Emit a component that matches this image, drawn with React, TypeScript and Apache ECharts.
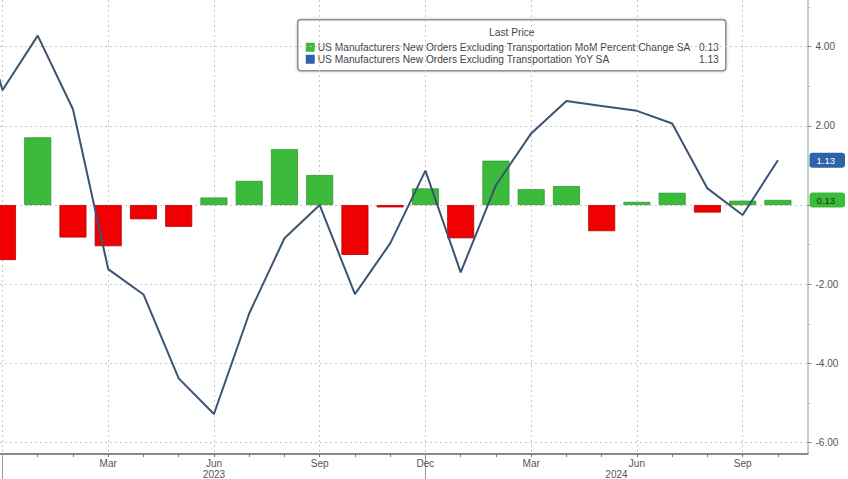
import React, { useEffect, useRef } from 'react';
import * as echarts from 'echarts';

// Months (index 0 = Nov 2022, off the left edge of the view)
const months = [
  '2022-11', '2022-12',
  '2023-01', '2023-02', '2023-03', '2023-04', '2023-05', '2023-06',
  '2023-07', '2023-08', '2023-09', '2023-10', '2023-11', '2023-12',
  '2024-01', '2024-02', '2024-03', '2024-04', '2024-05', '2024-06',
  '2024-07', '2024-08', '2024-09', '2024-10',
];
const monthAbbr = ['Jan', 'Feb', 'Mar', 'Apr', 'May', 'Jun', 'Jul', 'Aug', 'Sep', 'Oct', 'Nov', 'Dec'];

// MoM percent change (bars)
const momChange: (number | null)[] = [
  null, -1.39,
  1.71, -0.82, -1.04, -0.36, -0.55, 0.19,
  0.61, 1.41, 0.76, -1.26, -0.06, 0.42,
  -0.84, 1.12, 0.40, 0.48, -0.66, 0.08,
  0.31, -0.19, 0.11, 0.13,
];

// YoY (line)
const yoyChange = [
  6.1, 2.9,
  4.28, 2.42, -1.62, -2.26, -4.38, -5.28,
  -2.74, -0.84, 0.0, -2.25, -0.97, 0.87,
  -1.70, 0.5, 1.81, 2.63, 2.5, 2.38,
  2.06, 0.42, -0.25, 1.13,
];

const yGridValues = [-6, -4, -2, 0, 2, 4];
const yLabelValues = [-6, -4, -2, 2, 4];
const yMinorValues = [-5, -3, -1, 1, 3, 5];

const momName = 'US Manufacturers New Orders Excluding Transportation MoM Percent Change SA';
const yoyName = 'US Manufacturers New Orders Excluding Transportation YoY SA';
const legendTitle = 'Last Price';

const X_MIN = 0.93;
const X_MAX = 23.84;
const Y_MIN = -6.29;
const Y_MAX = 5.18;

const GREEN = '#3cba3c';
const GREEN_EDGE = '#2c9a2c';
const RED = '#f00000';
const RED_EDGE = '#b40000';
const LINE = '#3b5472';
const BLUE_TAG = '#2c64aa';
const FONT = 'Liberation Sans, Arial, sans-serif';
const LEGEND_FS = 10.2;

export default function App() {
  const ref = useRef<HTMLDivElement>(null);

  useEffect(() => {
    if (!ref.current) return;
    const chart = echarts.init(ref.current, null, { renderer: 'svg' });

    const monthIdx = months.map((_, i) => i);
    const visibleIdx = monthIdx.filter((i) => i >= X_MIN && i <= X_MAX);
    const quarterIdx = visibleIdx.filter((i) => Number(months[i].slice(5)) % 3 === 0);
    const quarterLabelIdx = quarterIdx.filter((i) => i - 0.5 > X_MIN);
    const decIdx = visibleIdx.filter((i) => months[i].slice(5) === '12');
    const yearBounds = [...decIdx, X_MAX];
    const yearCenters = yearBounds.slice(0, -1).map((b, k) => (b + yearBounds[k + 1]) / 2);
    const yearOfCenter = (v: number) => {
      const k = yearCenters.findIndex((c) => Math.abs(c - v) < 0.01);
      return String(Number(months[decIdx[k]].slice(0, 4)) + 1);
    };

    const lastMom = momChange[momChange.length - 1] as number;
    const lastYoy = yoyChange[yoyChange.length - 1];

    const dotted = { color: '#c9c9c9', type: [2, 3] as number[], width: 1 };

    const xBase = {
      type: 'value' as const,
      min: X_MIN,
      max: X_MAX,
      position: 'bottom' as const,
      gridIndex: 0,
    };
    const yBase = {
      type: 'value' as const,
      min: Y_MIN,
      max: Y_MAX,
      position: 'right' as const,
      gridIndex: 0,
    };

    const option: any = {
      animation: false,
      backgroundColor: '#ffffff',
      textStyle: { fontFamily: FONT },
      grid: { left: 0, right: 35, top: 0, bottom: 25, containLabel: false },
      xAxis: [
        {
          ...xBase,
          axisLine: { show: true, onZero: false, lineStyle: { color: '#8a8a8a', width: 2 } },
          axisTick: { show: true, length: 3, customValues: visibleIdx, lineStyle: { color: '#777' } },
          axisLabel: { show: false },
          splitLine: { show: false },
        },
        {
          ...xBase,
          axisLine: { show: false, onZero: false },
          axisTick: { show: false, customValues: quarterIdx },
          axisLabel: {
            show: true,
            customValues: quarterLabelIdx,
            margin: 4,
            fontSize: 10,
            color: '#555',
            fontFamily: FONT,
            formatter: (v: number) => monthAbbr[Number(months[Math.round(v)].slice(5)) - 1],
          },
          splitLine: { show: true, lineStyle: dotted },
        },
        {
          ...xBase,
          axisLine: { show: false, onZero: false },
          axisTick: { show: true, inside: false, length: 25, customValues: decIdx, lineStyle: { color: '#999', width: 1 } },
          axisLabel: {
            show: true,
            customValues: yearCenters,
            margin: 15,
            fontSize: 10,
            color: '#555',
            fontFamily: FONT,
            formatter: (v: number) => yearOfCenter(v),
          },
          splitLine: { show: false },
        },
      ],
      yAxis: [
        {
          ...yBase,
          axisLine: { show: true, onZero: false, lineStyle: { color: '#aec2ae', width: 1.5 } },
          axisTick: { show: true, length: 4, customValues: yGridValues, lineStyle: { color: '#888' } },
          axisLabel: {
            show: true,
            customValues: yLabelValues,
            margin: 8,
            fontSize: 10,
            color: '#555',
            fontFamily: FONT,
            formatter: (v: number) => v.toFixed(2),
          },
          splitLine: { show: true, lineStyle: dotted },
        },
        {
          ...yBase,
          axisLine: { show: false, onZero: false },
          axisTick: { show: true, length: 3, customValues: yMinorValues, lineStyle: { color: '#bbb' } },
          axisLabel: { show: false },
          splitLine: { show: false },
        },
        {
          ...yBase,
          axisLine: { show: false, onZero: false },
          axisTick: { show: false },
          axisLabel: {
            show: true,
            customValues: [lastMom, lastYoy],
            margin: 2,
            formatter: (v: number) =>
              Math.abs(v - lastYoy) < 1e-9 ? `{b|${v.toFixed(2)}}` : `{g|${v.toFixed(2)}}`,
            rich: {
              b: {
                backgroundColor: BLUE_TAG,
                color: '#ffffff',
                fontSize: 9.5,
                fontFamily: FONT,
                padding: [3, 10, 2, 7],
                borderRadius: 3,
              },
              g: {
                backgroundColor: GREEN,
                color: '#1c2e1c',
                fontSize: 9.5,
                fontFamily: FONT,
                padding: [3, 10, 2, 7],
                borderRadius: 3,
              },
            },
          },
          splitLine: { show: false },
        },
      ],
      series: [
        {
          name: momName,
          type: 'bar',
          xAxisIndex: 0,
          yAxisIndex: 0,
          barWidth: 27,
          clip: true,
          data: momChange
            .map((v, i) => ({ v, i }))
            .filter((d) => d.v !== null)
            .map((d) => ({
              value: [d.i, d.v],
              itemStyle: {
                color: (d.v as number) >= 0 ? GREEN : RED,
                borderColor: (d.v as number) >= 0 ? GREEN_EDGE : RED_EDGE,
                borderWidth: 0.8,
              },
            })),
          z: 2,
        },
        {
          name: yoyName,
          type: 'line',
          xAxisIndex: 0,
          yAxisIndex: 0,
          clip: true,
          showSymbol: false,
          symbol: 'none',
          lineStyle: { color: LINE, width: 2 },
          data: yoyChange.map((v, i) => [i, v]),
          z: 3,
        },
      ],
      graphic: [
        {
          type: 'group',
          left: 297,
          top: 19,
          z: 100,
          children: [
            {
              type: 'rect',
              shape: { x: 0, y: 0, width: 428, height: 51, r: 3 },
              style: {
                fill: '#ffffff',
                stroke: '#8e8e8e',
                lineWidth: 1.5,
                shadowBlur: 3,
                shadowColor: 'rgba(0,0,0,0.25)',
              },
            },
            {
              type: 'text',
              x: 214,
              y: 13,
              style: {
                text: legendTitle,
                fill: '#444',
                fontSize: LEGEND_FS,
                fontFamily: FONT,
                textAlign: 'center',
                textVerticalAlign: 'middle',
              },
            },
            { type: 'rect', shape: { x: 8, y: 23, width: 9, height: 9 }, style: { fill: GREEN } },
            {
              type: 'text',
              x: 20,
              y: 28,
              style: {
                text: momName,
                fill: '#444',
                fontSize: LEGEND_FS,
                fontFamily: FONT,
                textVerticalAlign: 'middle',
              },
            },
            {
              type: 'text',
              x: 421,
              y: 28,
              style: {
                text: lastMom.toFixed(2),
                fill: '#444',
                fontSize: LEGEND_FS,
                fontFamily: FONT,
                textAlign: 'right',
                textVerticalAlign: 'middle',
              },
            },
            { type: 'rect', shape: { x: 8, y: 35, width: 9, height: 9 }, style: { fill: BLUE_TAG } },
            {
              type: 'text',
              x: 20,
              y: 40,
              style: {
                text: yoyName,
                fill: '#444',
                fontSize: LEGEND_FS,
                fontFamily: FONT,
                textVerticalAlign: 'middle',
              },
            },
            {
              type: 'text',
              x: 421,
              y: 40,
              style: {
                text: lastYoy.toFixed(2),
                fill: '#444',
                fontSize: LEGEND_FS,
                fontFamily: FONT,
                textAlign: 'right',
                textVerticalAlign: 'middle',
              },
            },
          ],
        },
      ],
    };

    chart.setOption(option);
    return () => {
      chart.dispose();
    };
  }, []);

  return (
    <div
      ref={ref}
      style={{ position: 'fixed', left: 0, top: 0, width: 848, height: 479, background: '#fff' }}
    />
  );
}
